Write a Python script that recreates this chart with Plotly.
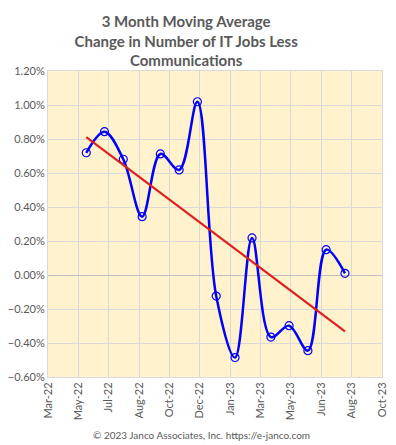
import numpy as np
import pandas as pd
import plotly.graph_objects as go

# Data
months = pd.date_range("2022-06-01", "2023-08-01", freq="MS")
values = [0.719, 0.843, 0.681, 0.343, 0.712, 0.618, 1.019, -0.124,
          -0.486, 0.218, -0.365, -0.298, -0.445, 0.149, 0.010]
tick_dates = pd.date_range("2022-03-30", periods=12, freq="50D")
title_lines = ["3 Month Moving Average", "Change in Number of IT Jobs Less", "Communications"]
footer = "© 2023 Janco Associates, Inc. https://e-janco.com"

# Linear trend (least squares over point index, as Excel trendline)
idx = np.arange(len(values))
slope, intercept = np.polyfit(idx, values, 1)
trend = slope * idx + intercept

fig = go.Figure()
fig.add_trace(go.Scatter(
    x=months, y=values, mode="lines+markers",
    line=dict(color="#0000FF", width=2.5, shape="spline", smoothing=1.0),
    marker=dict(symbol="circle-open", size=8, color="#0000FF", line=dict(width=1.2, color="#0000FF")),
    showlegend=False, hoverinfo="x+y"))
fig.add_trace(go.Scatter(
    x=[months[0], months[-1]], y=[trend[0], trend[-1]], mode="lines",
    line=dict(color="#E02020", width=2.2), showlegend=False))

fig.update_layout(
    width=396, height=445,
    margin=dict(l=47, r=8, t=71, b=68),
    paper_bgcolor="white", plot_bgcolor="#FFF2CC",
    font=dict(family="Lato, Open Sans, sans-serif", size=11, color="#595959"),
    title=dict(text="<br>".join(title_lines), x=0.47, xanchor="center",
               yref="container", y=1 - 27 / 445, yanchor="top",
               font=dict(family="Lato, Open Sans, sans-serif", size=15, color="#595959", weight="bold")),
    xaxis=dict(type="date", range=[tick_dates[0], tick_dates[-1]],
               tickvals=list(tick_dates), tickformat="%b-%y", tickangle=-90,
               showgrid=True, gridcolor="#D9D9D9", gridwidth=1,
               showline=True, linecolor="#D9D9D9", mirror=True, ticks="",
               tickfont=dict(size=11, color="#595959")),
    yaxis=dict(range=[-0.6, 1.2], dtick=0.2, tick0=0, tickformat=".2f", ticksuffix="%",
               showgrid=True, gridcolor="#D9D9D9", gridwidth=1,
               zeroline=True, zerolinecolor="#BFBFBF", zerolinewidth=1,
               showline=True, linecolor="#D9D9D9", mirror=True, ticks="",
               tickfont=dict(size=11, color="#595959")),
    annotations=[dict(text=footer, xref="paper", yref="paper", x=0.46, y=-0.19, xanchor="center",
                      yanchor="middle", showarrow=False, font=dict(size=10, color="#595959"))],
)

fig.write_html("out.html", config={"displayModeBar": False},
               post_script="document.body.style.margin='0';")
